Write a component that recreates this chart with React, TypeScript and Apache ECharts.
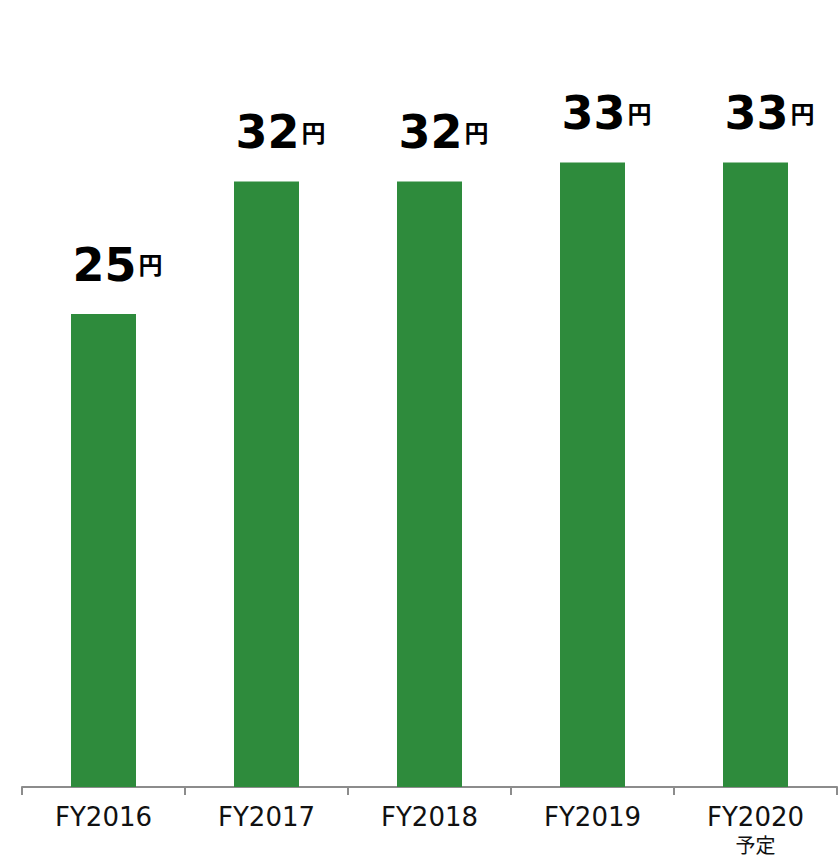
import React, { useEffect, useRef } from "react";
import * as echarts from "echarts";

const categories = ["FY2016", "FY2017", "FY2018", "FY2019", "FY2020"];
const subLabels = ["", "", "", "", "予定"];
const values = [25, 32, 32, 33, 33];
const unit = "円";

export default function App() {
  const ref = useRef<HTMLDivElement>(null);
  useEffect(() => {
    if (!ref.current) return;
    const chart = echarts.init(ref.current, undefined, { renderer: "svg" });
    const font = "'DejaVu Sans', 'Noto Sans CJK JP', sans-serif";
    const cjk = "'Noto Sans CJK JP', sans-serif";
    chart.setOption({
      animation: false,
      grid: { left: 22, right: 3, top: 30, bottom: 71, containLabel: false },
      xAxis: {
        type: "category",
        data: categories,
        axisLine: { lineStyle: { color: "#8c8c8c", width: 2 } },
        axisTick: { show: true, length: 8, lineStyle: { color: "#8c8c8c", width: 2 } },
        axisLabel: {
          margin: 17,
          color: "#111",
          fontFamily: font,
          fontSize: 26,
          lineHeight: 26,
          formatter: (v: string, i: number) =>
            subLabels[i] ? `${v}\n{s|${subLabels[i]}}` : v,
          rich: {
            s: { fontSize: 20, lineHeight: 28, fontFamily: cjk, color: "#111" },
          },
        },
      },
      yAxis: { type: "value", min: 0, max: 40, show: false, splitLine: { show: false } },
      series: [
        {
          type: "bar",
          data: values,
          barWidth: 65,
          itemStyle: { color: "#2E8B3C" },
          label: {
            show: true,
            position: "top",
            distance: 26,
            offset: [14, 0],
            formatter: (p: any) => `{v|${p.value}}{u|${unit}}`,
            rich: {
              v: { fontSize: 46, fontWeight: "bold", color: "#000", fontFamily: font },
              u: { fontSize: 24, fontWeight: "bold", color: "#000", fontFamily: cjk, padding: [0, 0, 2, 2] },
            },
          },
        },
      ],
    });
    return () => chart.dispose();
  }, []);
  return <div ref={ref} style={{ width: 840, height: 858, position: "absolute", left: 0, top: 0 }} />;
}
